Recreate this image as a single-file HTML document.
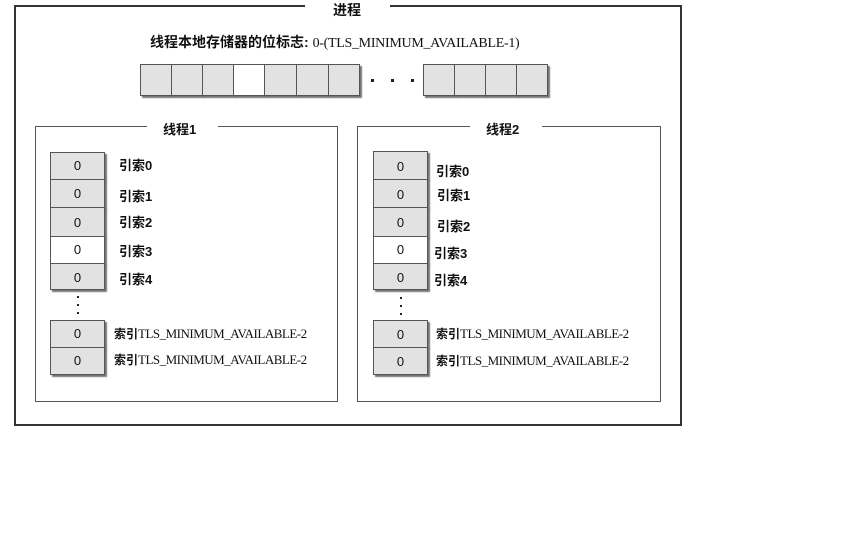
<!DOCTYPE html>
<html><head><meta charset="utf-8"><style>
body{margin:0;width:846px;height:550px;background:#fff;position:relative;overflow:hidden;font-family:"Liberation Sans","Noto Sans CJK SC",sans-serif;color:#111}
.a{position:absolute}
.box{position:absolute;border:1px solid #555}
.gap{position:absolute;background:#fff;height:5px}
.c{position:absolute;background:#e2e2e2;border:1px solid #555;box-sizing:border-box;box-shadow:2px 2px 1px #777;font-size:13px;text-align:center}
.w{background:#fff}
.l{position:absolute;font-size:13px;white-space:nowrap;font-weight:bold}
.s{font-family:"Liberation Serif","Noto Sans CJK SC",serif;font-size:13px;font-weight:normal;letter-spacing:-0.5px}
.dot{position:absolute;width:3px;height:3px;background:#222}
</style></head><body>
<div class="a" style="left:14px;top:5px;width:664px;height:417px;border:2px solid #333"></div>
<div class="gap" style="left:305px;top:3px;width:85px"></div>
<div class="l" style="left:333px;top:0px;font-size:14px">进程</div>
<div class="l" style="left:150px;top:32px;font-size:14px">线程本地存储器的位标志: <span class="s" style="font-size:14px;letter-spacing:-0.3px">0-(TLS_MINIMUM_AVAILABLE-1)</span></div>

<div class="c" style="left:140px;top:64px;width:32px;height:32px"></div>
<div class="c" style="left:171px;top:64px;width:32px;height:32px"></div>
<div class="c" style="left:202px;top:64px;width:32px;height:32px"></div>
<div class="c w" style="left:233px;top:64px;width:32px;height:32px"></div>
<div class="c" style="left:264px;top:64px;width:33px;height:32px"></div>
<div class="c" style="left:296px;top:64px;width:33px;height:32px"></div>
<div class="c" style="left:328px;top:64px;width:32px;height:32px"></div>
<div class="dot" style="left:371px;top:79px"></div>
<div class="dot" style="left:391px;top:79px"></div>
<div class="dot" style="left:411px;top:79px"></div>
<div class="c" style="left:423px;top:64px;width:32px;height:32px"></div>
<div class="c" style="left:454px;top:64px;width:32px;height:32px"></div>
<div class="c" style="left:485px;top:64px;width:32px;height:32px"></div>
<div class="c" style="left:516px;top:64px;width:32px;height:32px"></div>

<!-- thread 1 -->
<div class="box" style="left:35px;top:126px;width:301px;height:274px"></div>
<div class="gap" style="left:147px;top:124px;width:71px"></div>
<div class="l" style="left:163px;top:119px">线程1</div>
<div class="c" style="left:50px;top:152px;width:55px;height:28px;line-height:26px">0</div>
<div class="c" style="left:50px;top:179px;width:55px;height:29px;line-height:27px">0</div>
<div class="c" style="left:50px;top:207px;width:55px;height:30px;line-height:30px">0</div>
<div class="c w" style="left:50px;top:236px;width:55px;height:28px;line-height:26px">0</div>
<div class="c" style="left:50px;top:263px;width:55px;height:27px;line-height:27px">0</div>
<div class="dot" style="left:77px;top:296px;width:2px;height:2px"></div>
<div class="dot" style="left:77px;top:304px;width:2px;height:2px"></div>
<div class="dot" style="left:77px;top:312px;width:2px;height:2px"></div>
<div class="c" style="left:50px;top:320px;width:55px;height:28px;line-height:26px">0</div>
<div class="c" style="left:50px;top:347px;width:55px;height:28px;line-height:26px">0</div>
<div class="l" style="left:119px;top:155px">引索0</div>
<div class="l" style="left:119px;top:186px">引索1</div>
<div class="l" style="left:119px;top:212px">引索2</div>
<div class="l" style="left:119px;top:241px">引索3</div>
<div class="l" style="left:119px;top:269px">引索4</div>
<div class="l" style="left:114px;top:325px;font-size:12px">索引<span class="s">TLS_MINIMUM_AVAILABLE-2</span></div>
<div class="l" style="left:114px;top:351px;font-size:12px">索引<span class="s">TLS_MINIMUM_AVAILABLE-2</span></div>

<!-- thread 2 -->
<div class="box" style="left:357px;top:126px;width:302px;height:274px"></div>
<div class="gap" style="left:470px;top:124px;width:72px"></div>
<div class="l" style="left:486px;top:119px">线程2</div>
<div class="c" style="left:373px;top:151px;width:55px;height:29px;line-height:30px">0</div>
<div class="c" style="left:373px;top:179px;width:55px;height:29px;line-height:30px">0</div>
<div class="c" style="left:373px;top:207px;width:55px;height:30px;line-height:30px">0</div>
<div class="c w" style="left:373px;top:236px;width:55px;height:28px;line-height:26px">0</div>
<div class="c" style="left:373px;top:263px;width:55px;height:27px;line-height:27px">0</div>
<div class="dot" style="left:400px;top:297px;width:2px;height:2px"></div>
<div class="dot" style="left:400px;top:305px;width:2px;height:2px"></div>
<div class="dot" style="left:400px;top:313px;width:2px;height:2px"></div>
<div class="c" style="left:373px;top:320px;width:55px;height:28px;line-height:28px">0</div>
<div class="c" style="left:373px;top:347px;width:55px;height:28px;line-height:28px">0</div>
<div class="l" style="left:436px;top:161px">引索0</div>
<div class="l" style="left:437px;top:185px">引索1</div>
<div class="l" style="left:437px;top:216px">引索2</div>
<div class="l" style="left:434px;top:243px">引索3</div>
<div class="l" style="left:434px;top:270px">引索4</div>
<div class="l" style="left:436px;top:325px;font-size:12px">索引<span class="s">TLS_MINIMUM_AVAILABLE-2</span></div>
<div class="l" style="left:436px;top:352px;font-size:12px">索引<span class="s">TLS_MINIMUM_AVAILABLE-2</span></div>
</body></html>
